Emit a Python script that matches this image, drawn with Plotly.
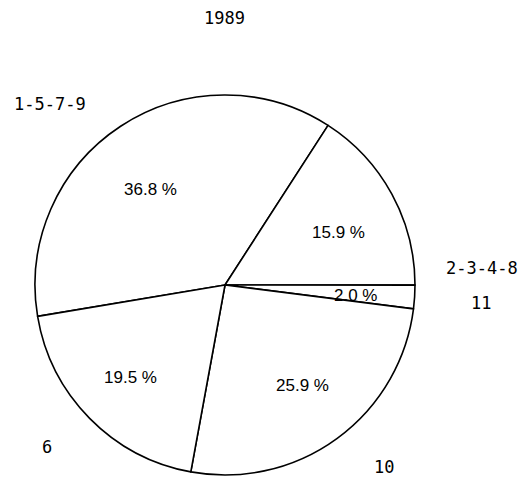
import plotly.graph_objects as go

# Share of total by group, 1989
groups = ["1-5-7-9", "2-3-4-8", "11", "10", "6"]
shares = [36.8, 15.9, 2.0, 25.9, 19.5]

# Label placement (paper pixels, from top-left) for the group names and percentages
W, H = 525, 477
name_pos = [(50, 104), (482, 268), (481, 303), (384, 467), (47, 447)]
pct_pos = [(150, 189), (338, 232), (355, 295), (302, 385), (130, 377)]

# Pie geometry in pixels
cx, cy, r = 225, 285, 190

fig = go.Figure(
    go.Pie(
        labels=groups,
        values=shares,
        sort=False,
        direction="clockwise",
        rotation=260.5,
        textinfo="none",
        hoverinfo="label+percent",
        marker=dict(colors=["white"] * len(groups),
                    line=dict(color="black", width=1.6)),
        domain=dict(x=[(cx - r) / W, (cx + r) / W],
                    y=[(H - cy - r) / H, (H - cy + r) / H]),
        showlegend=False,
    )
)


def label(text, x, y, family, size):
    return dict(x=x / W, y=1 - y / H, xref="paper", yref="paper",
                xanchor="center", yanchor="middle",
                text=text, showarrow=False,
                font=dict(family=family, size=size, color="black"))


ann = [label(g, x, y, "DejaVu Sans Mono", 17) for g, (x, y) in zip(groups, name_pos)]
ann += [label(f"{v:.1f} %", x, y, "Liberation Sans", 17) for v, (x, y) in zip(shares, pct_pos)]
ann.append(label("1989", 224, 18, "DejaVu Sans Mono", 17))

fig.update_layout(
    width=W, height=H,
    margin=dict(l=0, r=0, t=0, b=0),
    paper_bgcolor="white",
    plot_bgcolor="white",
    annotations=ann,
)

fig.write_html("out.html")
